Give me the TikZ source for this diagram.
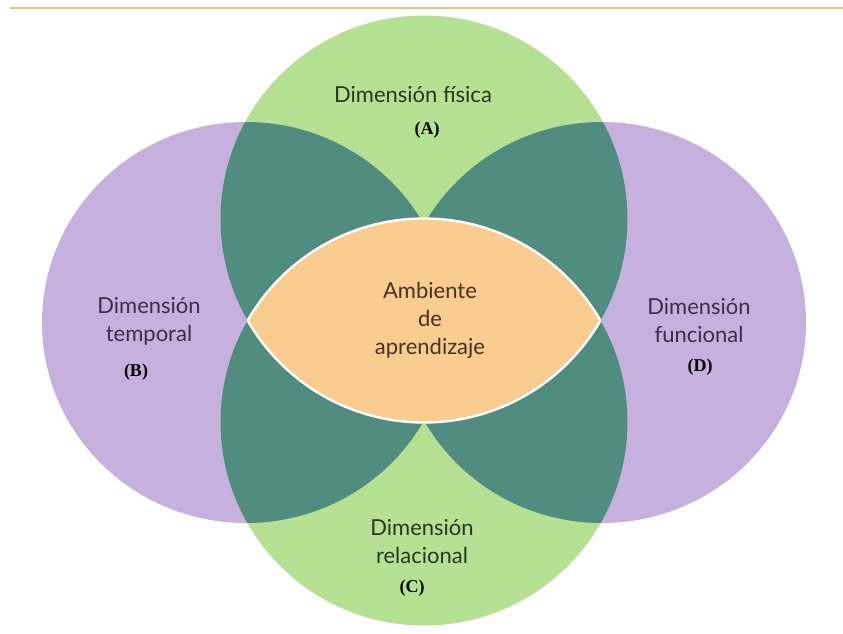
\documentclass[tikz,border=0pt]{standalone}
\usepackage{fontspec}
\setmainfont{Lato}
\newfontfamily\letterfont{Liberation Serif}
\definecolor{cgreen}{RGB}{182,224,146}
\definecolor{cpurple}{RGB}{198,177,222}
\definecolor{cteal}{RGB}{80,141,128}
\definecolor{corange}{RGB}{249,205,143}
\definecolor{cline}{RGB}{236,192,125}
\definecolor{tgreen}{RGB}{40,55,35}
\definecolor{tpurple}{RGB}{60,45,72}
\definecolor{tbrown}{RGB}{70,50,30}
\begin{document}
\begin{tikzpicture}[x=1pt,y=-1pt,
  dimtext/.style={align=center,inner sep=0pt,font=\fontsize{22}{28}\selectfont},
  lettertext/.style={inner sep=0pt,text=black,font=\letterfont\bfseries\fontsize{18}{20}\selectfont}]
\useasboundingbox (0,0) rectangle (843,633);
\fill[white] (0,0) rectangle (843,633);
% top rule
\coordinate (l1) at (10,7.5);
\coordinate (l2) at (843,7.5);
\draw[cline,line width=2pt] (l1) -- (l2);
% circles
\def\topC{(424,219) circle [radius=203.5pt]}
\def\botC{(424,422) circle [radius=203.5pt]}
\def\leftE{(246,322.5) ellipse [x radius=204pt, y radius=200.5pt]}
\def\rightE{(602,322.5) ellipse [x radius=204pt, y radius=200.5pt]}
\fill[cpurple] \leftE;
\fill[cpurple] \rightE;
\fill[cgreen] \topC;
\fill[cgreen] \botC;
\begin{scope}
  \clip \topC;
  \fill[cteal] \leftE;
  \fill[cteal] \rightE;
\end{scope}
\begin{scope}
  \clip \botC;
  \fill[cteal] \leftE;
  \fill[cteal] \rightE;
\end{scope}
\begin{scope}
  \clip \topC;
  \fill[corange] \botC;
  \draw[white,line width=2.4pt] \botC;
\end{scope}
\begin{scope}
  \clip \botC;
  \draw[white,line width=2.4pt] \topC;
\end{scope}
% texts
\node[dimtext,text=tgreen] (fis) at (413,95) {Dimensión física};
\node[lettertext] (A) at (427,130) {(A)};
\node[dimtext,text=tpurple] (tem) at (149,321) {Dimensión\\temporal};
\node[lettertext] (B) at (136,372) {(B)};
\node[dimtext,text=tpurple] (fun) at (699,321) {Dimensión\\funcional};
\node[lettertext] (D) at (700,367) {(D)};
\node[dimtext,text=tbrown] (amb) at (430,320) {Ambiente\\de\\aprendizaje};
\node[dimtext,text=tgreen] (rel) at (422,542) {Dimensión\\relacional};
\node[lettertext] (C) at (412,588) {(C)};
\end{tikzpicture}
\end{document}
